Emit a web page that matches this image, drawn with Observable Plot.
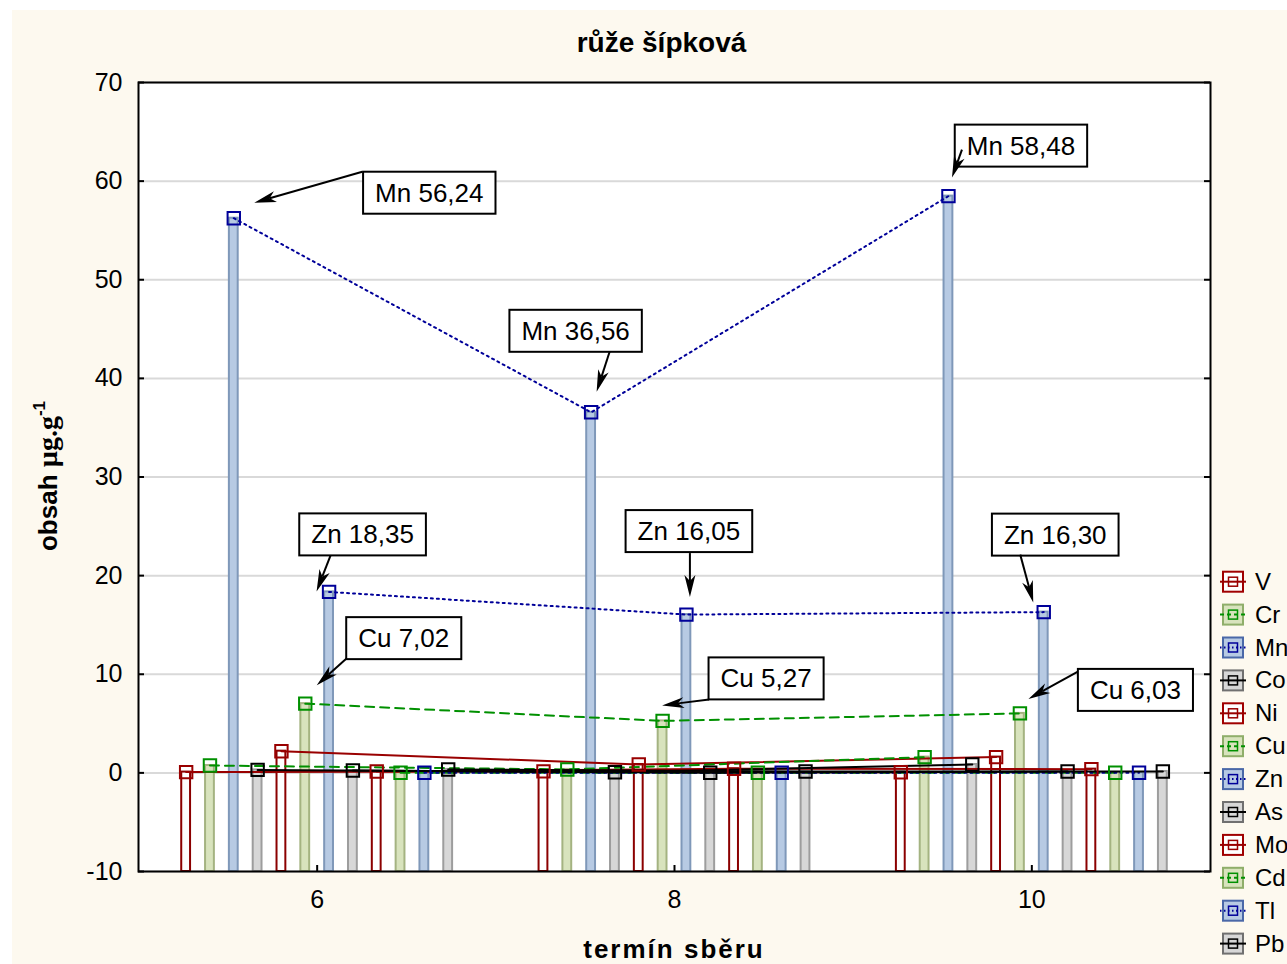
<!DOCTYPE html>
<html>
<head>
<meta charset="utf-8">
<script src="https://cdn.jsdelivr.net/npm/d3@7"></script>
<script src="https://cdn.jsdelivr.net/npm/@observablehq/plot@0.6"></script>
<style>
html, body { margin: 0; padding: 0; background: #ffffff; overflow: hidden; width: 1287px; height: 964px; }
#fig { position: absolute; left: 12px; top: 10px; width: 1275px; height: 954px; background: #fdf9ef; font-family: "Liberation Sans", Arial, sans-serif; overflow: hidden; }
#title { position: absolute; left: 0; top: 19px; width: 1275px; padding-left: 24px; box-sizing: border-box; text-align: center; font-weight: bold; font-size: 28px; line-height: 28px; color: #000; }
#chart { position: absolute; left: 0; top: 60px; }
</style>
</head>
<body>
<div id="fig">
  <div id="title">růže šípková</div>
  <div id="chart"></div>
</div>
<script>
// ---- data ----
const dates = [6, 8, 10];
const elements = ["V", "Cr", "Mn", "Co", "Ni", "Cu", "Zn", "As", "Mo", "Cd", "Tl", "Pb"];
const values6  = [0.08, 0.75, 56.24, 0.30, 2.20, 7.02, 18.35, 0.24, 0.14, 0.01, 0.01, 0.35];
const values8  = [0.15, 0.35, 36.56, 0.07, 0.85, 5.27, 16.05, 0.02, 0.42, 0.01, 0.01, 0.14];
const values10 = [0.07, 1.60, 58.48, 0.85, 1.60, 6.03, 16.30, 0.14, 0.38, 0.01, 0.01, 0.14];
const yTicks = [-10, 0, 10, 20, 30, 40, 50, 60, 70];
const xTicks = [6, 8, 10];
const xLabel = "termín sběru";
const yLabelMain = "obsah ";
const yLabelUnit = "µg.g";
const yLabelSup = "-1";

// annotations: box centre offset (bx,by), arrow tip (ax,ay), arrow tail (tx,ty), px relative to the point
const notes = [
  {element: "Mn", date: 6,  bx: 196, by: -25, ax: 21,  ay: -15, tx: 129, ty: -46},
  {element: "Mn", date: 8,  bx: -15, by: -81, ax: 6,   ay: -20, tx: 19,  ty: -60},
  {element: "Mn", date: 10, bx: 73,  by: -50, ax: 4,   ay: -18, tx: 14,  ty: -46},
  {element: "Zn", date: 6,  bx: 34,  by: -57, ax: -12, ay: 0,   tx: 2,   ty: -36},
  {element: "Zn", date: 8,  bx: 3,   by: -83, ax: 4,   ay: -17, tx: 4,   ty: -61},
  {element: "Zn", date: 10, bx: 12,  by: -77, ax: -10, ay: -9,  tx: -23, ty: -57},
  {element: "Cu", date: 6,  bx: 99,  by: -65, ax: 12,  ay: -18, tx: 42,  ty: -45},
  {element: "Cu", date: 8,  bx: 104, by: -42, ax: 0,   ay: -15, tx: 47,  ty: -21},
  {element: "Cu", date: 10, bx: 116, by: -23, ax: 9,   ay: -14, tx: 58,  ty: -41}
];

// ---- styles ----
const fam = [
  {bar: "#ffffff", barStroke: "#8b0000", line: "#990000", dash: null,  legStroke: "#a00000"},
  {bar: "#d8e3bd", barStroke: "#a4b381", line: "#009000", dash: "9,6", legStroke: "#8fae6a"},
  {bar: "#b7cae3", barStroke: "#7f98b9", line: "#000099", dash: "2,4", legStroke: "#4a68a8"},
  {bar: "#d7d7d7", barStroke: "#9d9d9d", line: "#000000", dash: null,  legStroke: "#707070"}
];

const W = 1275, H = 894;
const mL = 126, mR = 77, mT = 12, mB = 93;
const plotW = W - mL - mR, plotH = H - mT - mB;
const slot = 2 / 15;

const series = [values6, values8, values10];
const rows = [];
dates.forEach((date, j) => {
  elements.forEach((el, i) => {
    rows.push({date, element: el, i, fam: i % 4, value: series[j][i], x: date + (i - 5.5) * slot});
  });
});

const chart = Plot.plot({
  width: W, height: H,
  marginLeft: mL, marginRight: mR, marginTop: mT, marginBottom: mB,
  x: {domain: [5, 11], label: null},
  y: {domain: [-10, 70], label: null},
  color: {type: "identity"},
  style: {background: "transparent", fontFamily: "'Liberation Sans', Arial, sans-serif", fontSize: "25px", color: "#000", overflow: "visible"},
  marks: [
    Plot.frame({fill: "white"}),
    Plot.ruleY(yTicks, {stroke: "#d9d9d9", strokeWidth: 2}),
    Plot.rect(rows, {
      x1: d => d.x - slot / 2, x2: d => d.x + slot / 2,
      y1: () => -10, y2: "value",
      insetLeft: 7.5, insetRight: 7.5,
      fill: d => fam[d.fam].bar, stroke: d => fam[d.fam].barStroke, strokeWidth: 2
    }),
    ...fam.map((f, k) => Plot.line(rows.filter(r => r.fam === k), {
      x: "x", y: "value", z: "element", stroke: f.line, strokeWidth: 2,
      strokeDasharray: f.dash || "none"
    })),
    Plot.dot(rows, {x: "x", y: "value", symbol: "square", r: 7, stroke: d => fam[d.fam].line, strokeWidth: 2, fill: "none"}),
    Plot.tickY(yTicks, {y: d => d, insetRight: plotW - 6, stroke: "black", strokeWidth: 2}),
    Plot.tickY(yTicks, {y: d => d, insetLeft: plotW - 6, stroke: "black", strokeWidth: 2}),
    Plot.tickX(xTicks, {x: d => d, insetTop: plotH - 6, stroke: "black", strokeWidth: 2}),
    Plot.axisY(yTicks, {tickSize: 0, tickPadding: 16, fontSize: 25, label: null, tickFormat: d => String(d)}),
    Plot.axisX(xTicks, {tickSize: 0, tickPadding: 19, fontSize: 25, label: null, tickFormat: d => String(d)}),
    Plot.frame({stroke: "black", strokeWidth: 2})
  ]
});
document.getElementById("chart").appendChild(chart);

const svg = d3.select(chart);
const sx = chart.scale("x"), sy = chart.scale("y");

// axis titles
svg.append("text")
  .attr("x", mL + plotW / 2).attr("y", 888)
  .attr("text-anchor", "middle")
  .attr("font-weight", "bold").attr("font-size", 26)
  .attr("letter-spacing", "2px")
  .attr("font-family", "'Liberation Sans', Arial, sans-serif")
  .text(xLabel);

const yl = svg.append("text")
  .attr("transform", "translate(45,406) rotate(-90)")
  .attr("text-anchor", "middle")
  .attr("font-weight", "bold").attr("font-size", 26)
  .attr("font-family", "'Liberation Sans', Arial, sans-serif");
yl.append("tspan").text(yLabelMain);
yl.append("tspan").attr("font-family", "'Liberation Serif', 'Times New Roman', serif").attr("font-size", 28).text(yLabelUnit);
yl.append("tspan").attr("font-size", 17).attr("dy", -12).text(yLabelSup);

// annotations
const ag = svg.append("g");
notes.forEach(n => {
  const r = rows.find(d => d.element === n.element && d.date === n.date);
  const px = sx.apply(r.x), py = sy.apply(r.value);
  const label = n.element + " " + r.value.toFixed(2).replace(".", ",");
  const g = ag.append("g");
  const rect = g.append("rect").attr("fill", "white").attr("stroke", "black").attr("stroke-width", 2);
  const t = g.append("text")
    .attr("x", px + n.bx).attr("y", py + n.by + 9)
    .attr("text-anchor", "middle").attr("font-size", 26)
    .attr("font-family", "'Liberation Sans', Arial, sans-serif")
    .text(label);
  const tw = t.node().getComputedTextLength();
  rect.attr("x", px + n.bx - tw / 2 - 12).attr("y", py + n.by - 21)
      .attr("width", tw + 24).attr("height", 42);
  t.raise();
  // arrow
  const x0 = px + n.tx, y0 = py + n.ty, x1 = px + n.ax, y1 = py + n.ay;
  const len = Math.hypot(x1 - x0, y1 - y0);
  const ux = (x1 - x0) / len, uy = (y1 - y0) / len;
  const vx = -uy, vy = ux;
  const L = 22, w = 5.5, notch = 6;
  g.append("line").attr("x1", x0).attr("y1", y0)
    .attr("x2", x1 - (L - notch) * ux).attr("y2", y1 - (L - notch) * uy)
    .attr("stroke", "black").attr("stroke-width", 2);
  g.append("path").attr("fill", "black").attr("d",
    `M${x1},${y1}L${x1 - L * ux + w * vx},${y1 - L * uy + w * vy}L${x1 - (L - notch) * ux},${y1 - (L - notch) * uy}L${x1 - L * ux - w * vx},${y1 - L * uy - w * vy}Z`);
});

// legend
const lg = svg.append("g").attr("text-anchor", "start");
elements.forEach((el, i) => {
  const f = fam[i % 4];
  const gy = 511.7 + i * 32.9;
  lg.append("rect").attr("x", 1211).attr("y", gy - 10).attr("width", 20).attr("height", 20)
    .attr("fill", f.bar).attr("stroke", f.legStroke).attr("stroke-width", 2);
  lg.append("line").attr("x1", 1208).attr("x2", 1234).attr("y1", gy).attr("y2", gy)
    .attr("stroke", f.line).attr("stroke-width", 2)
    .attr("stroke-dasharray", f.dash ? (i % 4 === 2 ? "1.5,2.5" : "4,3") : null);
  lg.append("rect").attr("x", 1216.5).attr("y", gy - 4.5).attr("width", 9).attr("height", 9)
    .attr("fill", "none").attr("stroke", f.line).attr("stroke-width", 1.5);
  lg.append("text").attr("x", 1243).attr("y", gy + 8).attr("font-size", 24)
    .attr("text-anchor", "start")
    .attr("font-family", "'Liberation Sans', Arial, sans-serif").text(el);
});
</script>
</body>
</html>
